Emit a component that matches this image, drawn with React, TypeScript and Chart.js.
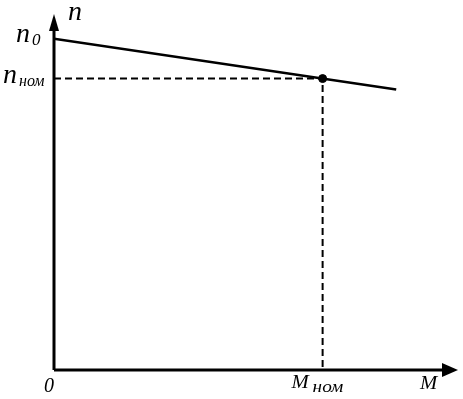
import React, { useEffect, useRef } from "react";
import { Chart, registerables } from "chart.js";

Chart.register(...registerables);

// Data (M in units of M_nom, n in units of n0)
const lineM = [0, 1.274];
const lineN = [1, 0.847];
const nomM = 1;
const nomN = 0.88;
const axisMaxM = 1.504;
const axisMaxN = 1.075;

const FONT = '"Liberation Serif", "Times New Roman", serif';

function drawText(ctx: CanvasRenderingContext2D, t: string, x: number, y: number, size: number, sx = 1) {
  ctx.save();
  ctx.translate(x, y);
  ctx.scale(sx, 1);
  ctx.font = `italic ${size}px ${FONT}`;
  ctx.fillText(t, 0, 0);
  ctx.restore();
}

const decorPlugin = {
  id: "decor",
  afterDatasetsDraw(chart: any) {
    const { ctx, scales } = chart;
    const xs = scales.x;
    const ys = scales.y;
    const x0 = xs.getPixelForValue(0);
    const y0 = ys.getPixelForValue(0);
    const xTip = xs.getPixelForValue(axisMaxM);
    const yTip = ys.getPixelForValue(axisMaxN);
    ctx.save();
    ctx.strokeStyle = "#000";
    ctx.fillStyle = "#000";
    ctx.lineWidth = 3;
    ctx.setLineDash([]);
    // axes
    ctx.beginPath();
    ctx.moveTo(x0, y0);
    ctx.lineTo(xTip - 10, y0);
    ctx.moveTo(x0, y0);
    ctx.lineTo(x0, yTip + 10);
    ctx.stroke();
    // arrow heads
    ctx.beginPath();
    ctx.moveTo(xTip, y0);
    ctx.lineTo(xTip - 16, y0 - 7);
    ctx.lineTo(xTip - 16, y0 + 7);
    ctx.closePath();
    ctx.fill();
    ctx.beginPath();
    ctx.moveTo(x0, yTip);
    ctx.lineTo(x0 - 5, yTip + 17);
    ctx.lineTo(x0 + 5, yTip + 17);
    ctx.closePath();
    ctx.fill();

    // labels
    const xNom = xs.getPixelForValue(nomM);
    const yNom = ys.getPixelForValue(nomN);
    const yN0 = ys.getPixelForValue(lineN[0]);
    ctx.textBaseline = "alphabetic";
    ctx.textAlign = "left";
    drawText(ctx, "n", x0 + 14, yTip + 6, 28);
    drawText(ctx, "n", x0 - 38, yN0 + 3, 28);
    drawText(ctx, "0", x0 - 22, yN0 + 6, 17);
    drawText(ctx, "n", x0 - 51, yNom + 4, 28);
    drawText(ctx, "ном", x0 - 35, yNom + 7, 16);
    drawText(ctx, "0", x0 - 10, y0 + 22, 20);
    drawText(ctx, "M", xNom - 31, y0 + 18, 18, 1.15);
    drawText(ctx, "ном", xNom - 10, y0 + 22, 16, 1.2);
    drawText(ctx, "M", xTip - 38, y0 + 19, 18, 1.15);
    ctx.restore();
  },
};

export default function App() {
  const ref = useRef<HTMLCanvasElement>(null);
  useEffect(() => {
    document.body.style.margin = "0";
    const chart = new Chart(ref.current!, {
      type: "scatter",
      data: {
        datasets: [
          {
            data: lineM.map((m, i) => ({ x: m, y: lineN[i] })),
            showLine: true,
            borderColor: "#000",
            borderWidth: 2.5,
            pointRadius: 0,
          },
          {
            data: [
              { x: 0, y: nomN },
              { x: nomM, y: nomN },
              { x: nomM, y: 0 },
            ],
            showLine: true,
            borderColor: "#000",
            borderWidth: 2,
            borderDash: [7, 4],
            pointRadius: 0,
          },
          {
            data: [{ x: nomM, y: nomN }],
            pointRadius: 4,
            backgroundColor: "#000",
            borderColor: "#000",
          },
        ],
      },
      options: {
        animation: false,
        responsive: false,
        maintainAspectRatio: false,
        layout: { padding: { left: 54, right: 3, top: 14, bottom: 29 } },
        plugins: { legend: { display: false }, tooltip: { enabled: false } },
        scales: {
          x: { type: "linear", min: 0, max: axisMaxM, display: false },
          y: { type: "linear", min: 0, max: axisMaxN, display: false },
        },
      },
      plugins: [decorPlugin],
    });
    return () => chart.destroy();
  }, []);
  return (
    <div style={{ position: "absolute", left: 0, top: 0, width: 463, height: 399 }}>
      <canvas ref={ref} width={463} height={399} />
    </div>
  );
}
